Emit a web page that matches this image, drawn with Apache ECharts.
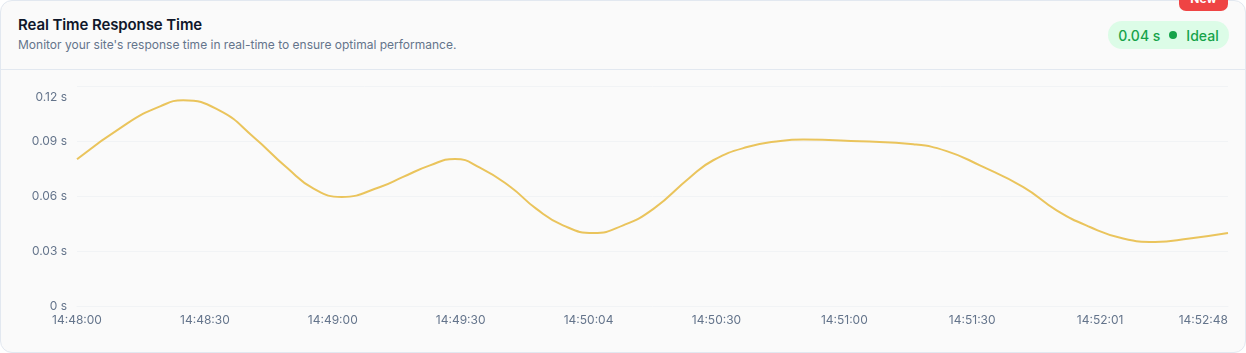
<!DOCTYPE html>
<html>
<head>
<meta charset="utf-8">
<script src="https://cdn.jsdelivr.net/npm/echarts@6/dist/echarts.min.js"></script>
<style>
  html, body { margin: 0; padding: 0; background: #ffffff; font-family: Inter, "Noto Sans", sans-serif; }
  #card { position: absolute; left: 0; top: 0; width: 1246px; height: 353px; box-sizing: border-box;
          border: 1px solid #e2e8f0; border-radius: 12px; background: #fafafa; overflow: visible; }
  #header { position: absolute; left: 0; top: 0; width: 100%; height: 68px; border-bottom: 1px solid #e2e8f0; }
  #title { position: absolute; left: 17px; top: 14px; font-size: 15px; font-weight: 600; color: #0f172a; letter-spacing: -0.1px; }
  #subtitle { position: absolute; left: 17px; top: 36px; font-size: 12px; color: #64748b; }
  #badge { position: absolute; left: 1107px; top: 20px; width: 121px; height: 28px; border-radius: 14px; background: #dcfce7;
           color: #16a34a; font-size: 14px; font-weight: 500; display: flex; align-items: center; justify-content: center; }
  #badge .dot { display: inline-block; width: 8px; height: 8px; border-radius: 4px; background: #16a34a; margin: 0 9px 0 9px; }
  #newtag { position: absolute; left: 1179px; top: -13px; width: 49px; height: 24px; border-radius: 7px; background: #ef4444;
            color: #fff; font-size: 12px; font-weight: 700; text-align: center; line-height: 24px; }
  #chart { position: absolute; left: 0; top: 69px; width: 1246px; height: 284px; }
</style>
</head>
<body>
<div id="card">
  <div id="header">
    <div id="title">Real Time Response Time</div>
    <div id="subtitle">Monitor your site's response time in real-time to ensure optimal performance.</div>
    <div id="badge"><span>0.04 s</span><span class="dot"></span><span>Ideal</span></div>
  </div>
</div>
<div id="newtag">New</div>
<div id="chart"></div>
<script>
// Tick labels of the time axis (one per tick, evenly spaced)
const tickLabels = ['14:48:00', '14:48:30', '14:49:00', '14:49:30', '14:50:04', '14:50:30', '14:51:00', '14:51:30', '14:52:01', '14:52:48'];
// Sample positions, in tick units along the time axis (0 = first tick, 9 = last tick)
const samplePos = [
  0, 0.39, 0.65, 0.83, 1.12, 1.38, 1.64, 1.85, 2.07, 2.37,
  2.55, 2.76, 2.955, 3.15, 3.39, 3.59, 3.80, 4.04, 4.27, 4.51,
  4.79, 4.975, 5.24, 5.50, 5.68, 6.12, 6.54, 6.80, 7.06, 7.40,
  7.66, 7.92, 8.18, 8.43, 8.70, 9
];
// Response time (seconds) at each sample
const responseTimes = [
  0.0800, 0.0995, 0.1089, 0.1122, 0.1064, 0.0922, 0.0755, 0.0640, 0.0595, 0.0649,
  0.0704, 0.0767, 0.0802, 0.0755, 0.0649, 0.0531, 0.0440, 0.0398, 0.0440, 0.0531,
  0.0700, 0.0795, 0.0867, 0.0900, 0.0908, 0.0898, 0.0882, 0.0845, 0.0767, 0.0649,
  0.0522, 0.0431, 0.0368, 0.0349, 0.0368, 0.0398
];
const yTicks = [0, 0.03, 0.06, 0.09, 0.12];

const seriesData = samplePos.map(function (p, i) { return [p, responseTimes[i]]; });

const chart = echarts.init(document.getElementById('chart'), null, { renderer: 'canvas' });
chart.setOption({
  animation: false,
  grid: { left: 77, right: 18, top: 17, bottom: 47, containLabel: false },
  xAxis: {
    type: 'value',
    min: 0,
    max: tickLabels.length - 1,
    interval: 1,
    axisLine: { show: true, lineStyle: { color: '#f1f3f5' } },
    axisTick: { show: false },
    axisLabel: {
      color: '#64748b', fontSize: 12, margin: 8, fontFamily: 'Inter', alignMaxLabel: 'right',
      formatter: function (v) { return tickLabels[Math.round(v)] || ''; }
    },
    splitLine: { show: false }
  },
  yAxis: {
    type: 'value',
    min: yTicks[0],
    max: yTicks[yTicks.length - 1],
    interval: yTicks[1] - yTicks[0],
    axisLine: { show: false },
    axisTick: { show: false },
    axisLabel: {
      color: '#64748b', fontSize: 12, margin: 10, fontFamily: 'Inter',
      formatter: function (v) {
        const s = (Math.round(v * 100) / 100) + ' s';
        return Math.abs(v - yTicks[yTicks.length - 1]) < 1e-9 ? '{top|' + s + '}' : s;
      },
      rich: { top: { color: '#64748b', fontSize: 12, fontFamily: 'Inter', padding: [22, 0, 0, 0] } }
    },
    splitLine: { show: true, lineStyle: { color: '#f1f3f5', width: 1 } }
  },
  series: [{
    type: 'line',
    data: seriesData,
    smooth: 0.5,
    showSymbol: false,
    lineStyle: { color: '#eac45c', width: 2 }
  }]
});
</script>
</body>
</html>
